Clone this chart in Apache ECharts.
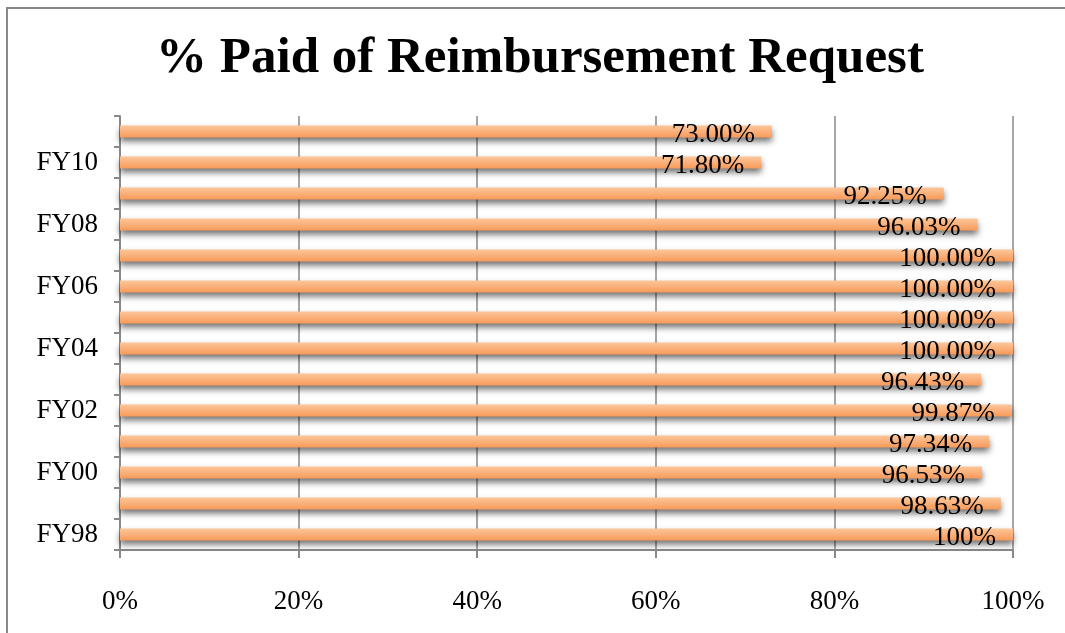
<!DOCTYPE html>
<html>
<head>
<meta charset="utf-8">
<script src="https://cdn.jsdelivr.net/npm/echarts@6/dist/echarts.min.js"></script>
<style>
  html, body { margin: 0; padding: 0; background: #fff; overflow: hidden; }
  #chart { width: 1065px; height: 633px; }
  #frame { position: absolute; left: 6px; top: 7px; width: 1200px; height: 800px;
           border-left: 2px solid #888; border-top: 2px solid #888; pointer-events: none; }
</style>
</head>
<body>
<div id="chart"></div>
<div id="frame"></div>
<script>
// fiscal years, bottom to top
const years = ['FY98','FY99','FY00','FY01','FY02','FY03','FY04','FY05','FY06','FY07','FY08','FY09','FY10','FY11'];
const paidPct = [100, 98.63, 96.53, 97.34, 99.87, 96.43, 100, 100, 100, 100, 96.03, 92.25, 71.80, 73.00];
const labelText = ['100%','98.63%','96.53%','97.34%','99.87%','96.43%','100.00%','100.00%','100.00%','100.00%','96.03%','92.25%','71.80%','73.00%'];

const serif = '"Liberation Serif", "DejaVu Serif", serif';

const chart = echarts.init(document.getElementById('chart'));
const option = {
  animation: false,
  title: {
    text: '% Paid of Reimbursement Request',
    left: 535,
    textAlign: 'center',
    top: 28,
    textStyle: { fontFamily: serif, fontWeight: 'bold', fontSize: 51, color: '#000' }
  },
  grid: { left: 120, right: 52, top: 116, bottom: 83 },
  xAxis: {
    type: 'value',
    min: 0,
    max: 100,
    interval: 20,
    axisLine: { show: true, lineStyle: { color: '#888', width: 2 } },
    axisTick: { show: true, length: 8, lineStyle: { color: '#888', width: 2 } },
    splitLine: { show: true, lineStyle: { color: '#888', width: 1.5 } },
    axisLabel: {
      margin: 38,
      formatter: '{value}%',
      fontFamily: serif, fontSize: 27, color: '#000'
    }
  },
  yAxis: {
    type: 'category',
    data: years,
    axisLine: { show: true, lineStyle: { color: '#888', width: 2 } },
    axisTick: { show: true, interval: 0, length: 6, lineStyle: { color: '#888', width: 2 } },
    axisLabel: {
      interval: 1,
      margin: 22,
      fontFamily: serif, fontSize: 27, color: '#000'
    }
  },
  series: [{
    type: 'bar',
    data: paidPct,
    barWidth: 12,
    itemStyle: {
      color: new echarts.graphic.LinearGradient(0, 0, 0, 1, [
        { offset: 0, color: '#fcc79a' },
        { offset: 0.5, color: '#fab07a' },
        { offset: 1, color: '#f79a58' }
      ]),
      shadowColor: 'rgba(0,0,0,0.55)',
      shadowBlur: 6,
      shadowOffsetY: 4
    },
    label: {
      show: true,
      position: 'insideRight',
      distance: 17,
      formatter: p => labelText[p.dataIndex],
      fontFamily: serif,
      fontSize: 27,
      color: '#000',
      offset: [0, 3]
    }
  }]
};
chart.setOption(option);
</script>
</body>
</html>
